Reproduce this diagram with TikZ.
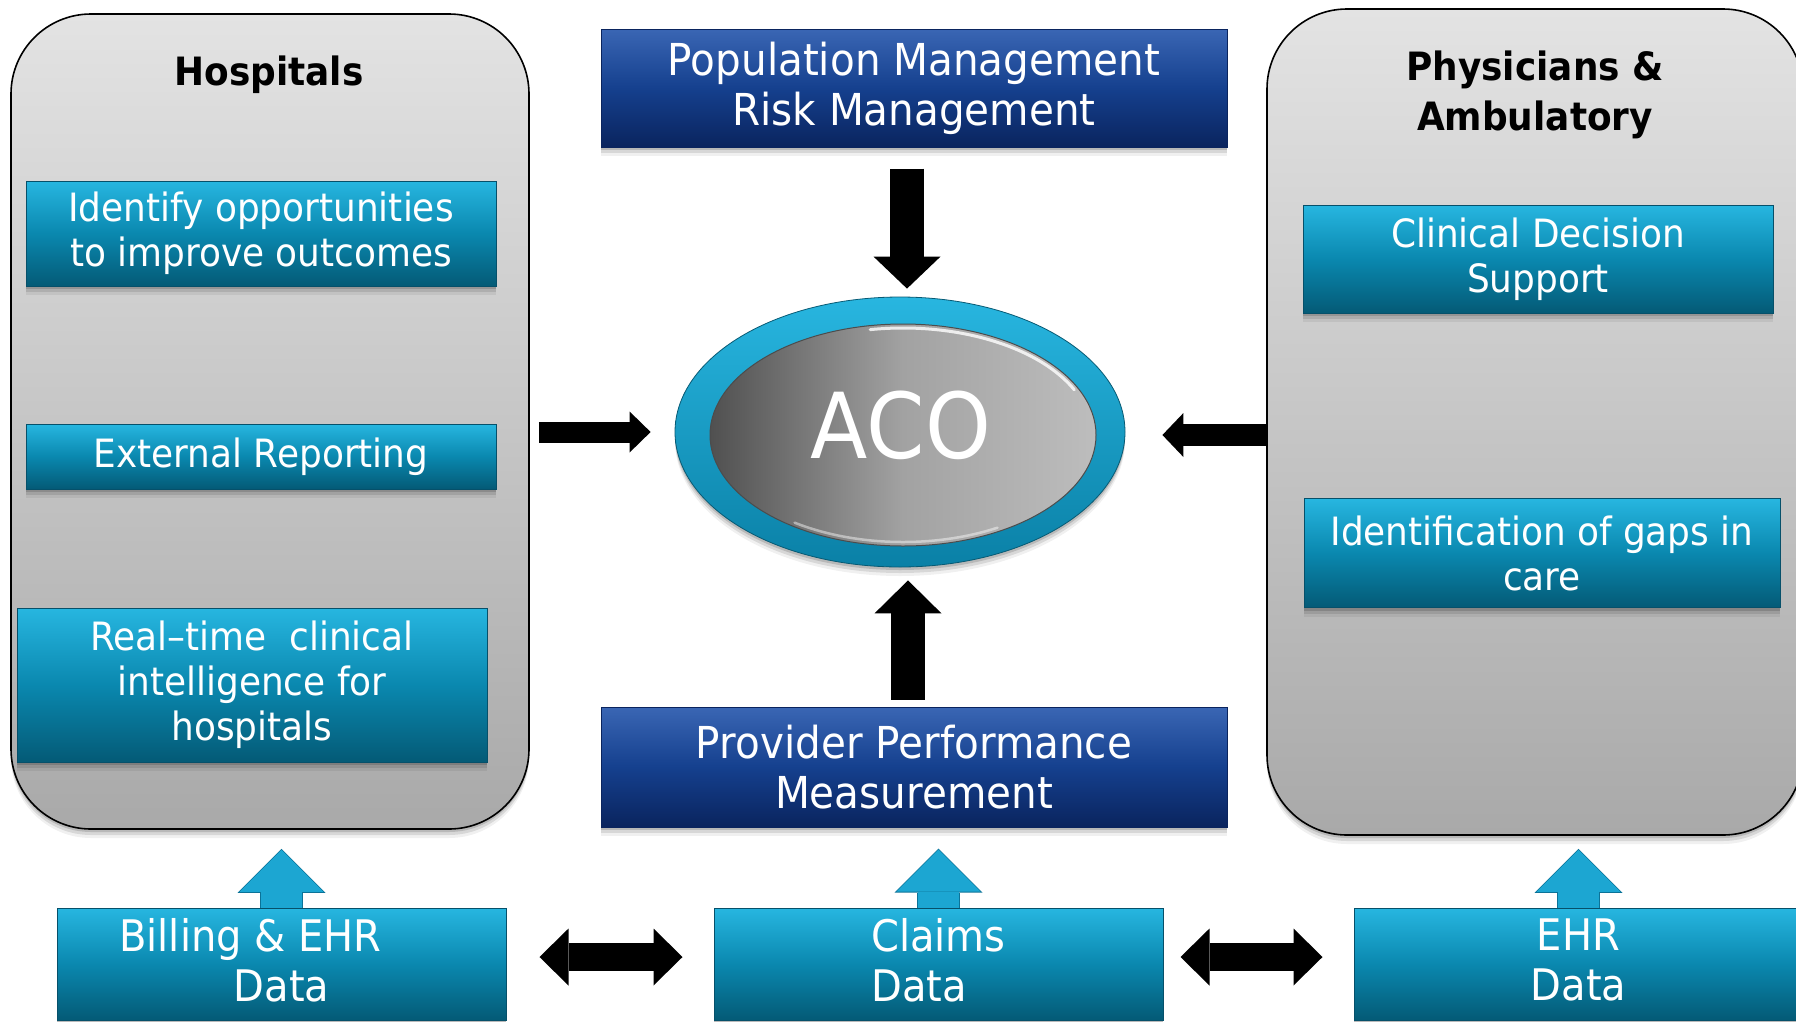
\documentclass[tikz,border=0pt]{standalone}
\usepackage{fontspec}
\setmainfont{DejaVu Sans}[FakeStretch=0.92]
\usetikzlibrary{shapes.geometric,arrows.meta,shadows}
\definecolor{tealA}{HTML}{27B6E0}
\definecolor{tealB}{HTML}{0A88AF}
\definecolor{tealC}{HTML}{045A76}
\definecolor{tealE}{HTML}{06506A}
\definecolor{navyA}{HTML}{3A66B4}
\definecolor{navyB}{HTML}{15408E}
\definecolor{navyC}{HTML}{0A245E}
\definecolor{panelA}{HTML}{E3E3E3}
\definecolor{panelB}{HTML}{A9A9A9}
\definecolor{ringA}{HTML}{28B6E0}
\definecolor{ringB}{HTML}{0A80A6}
\definecolor{acoL}{HTML}{505050}
\definecolor{acoM}{HTML}{A2A2A2}
\definecolor{acoR}{HTML}{BDBDBD}
\definecolor{arrowblue}{HTML}{1CA6D2}
\definecolor{arrowedge}{HTML}{0B7398}
\begin{document}
\begin{tikzpicture}[x=1pt,y=-1pt,
  softshadow/.style={
    drop shadow={shadow xshift=0pt, shadow yshift=-9pt, opacity=.06, fill=black},
    drop shadow={shadow xshift=0pt, shadow yshift=-6pt, opacity=.10, fill=black},
    drop shadow={shadow xshift=0pt, shadow yshift=-3pt, opacity=.14, fill=black}},
  panelbox/.style={rectangle, rounded corners=80pt, draw=black, line width=1.6pt,
    top color=panelA, bottom color=panelB, inner sep=0pt, softshadow},
  tealbox/.style={rectangle, draw=tealE, line width=1pt, top color=tealA,
    bottom color=tealC, middle color=tealB, text=white, align=center, inner sep=0pt,
    font=\fontsize{39}{45}\selectfont, softshadow},
  navybox/.style={rectangle, draw=navyC, line width=1pt, top color=navyA,
    bottom color=navyC, middle color=navyB, text=white, align=center, inner sep=0pt,
    font=\fontsize{44}{50}\selectfont, softshadow},
  databox/.style={tealbox, font=\fontsize{43.5}{50}\selectfont, text depth=9pt},
  paneltitle/.style={font=\bfseries\fontsize{39}{50}\selectfont, align=center, text=black, inner sep=0pt},
  blk/.style={draw=black},
  bluearr/.style={draw=arrowblue, line width=41pt,
    -{Triangle[length=42pt,width=84pt,line width=0pt]}},
  bluearredge/.style={draw=arrowedge, line width=43pt,
    -{Triangle[length=44pt,width=88pt,line width=0pt]}},
]
\useasboundingbox (0,0) rectangle (1796,1021);
\fill[white] (0,0) rectangle (1796,1021);

% panels
\node[panelbox, minimum width=518pt, minimum height=815pt] (hosp) at (270,421.5) {};
\node[paneltitle, anchor=base] (hosptitle) at (269,85) {Hospitals};
\node[panelbox, minimum width=536pt, minimum height=826pt] (phys) at (1535,422) {};
\node[paneltitle] (phystitle) at (1535,95) {Physicians \&\\Ambulatory};

% hospital boxes
\node[tealbox, minimum width=470pt, minimum height=105pt] (hid) at (261,233.5) {Identify opportunities\\to improve outcomes};
\node[tealbox, minimum width=470pt, minimum height=65pt] (hext) at (261,456.5) {External Reporting};
\node[tealbox, minimum width=470pt, minimum height=154pt] (hreal) at (252,685) {Real–time\ \ clinical\\intelligence for\\hospitals};

% physician boxes
\node[tealbox, minimum width=470pt, minimum height=108pt] (pcds) at (1538,259) {Clinical Decision\\Support};
\node[tealbox, minimum width=476pt, minimum height=109pt] (pgap) at (1542,553) {Identification of gaps in\\care};

% navy boxes
\node[navybox, minimum width=626pt, minimum height=118pt] (pop) at (914,88) {Population Management\\Risk Management};
\node[navybox, minimum width=626pt, minimum height=120pt] (prov) at (914,767) {Provider Performance\\Measurement};

% ACO
\node[ellipse, minimum width=450pt, minimum height=270pt, inner sep=0pt,
  draw=ringB!70!black, line width=.8pt, top color=ringA, bottom color=ringB,
  softshadow] (aco) at (900,432) {};
\node[ellipse, minimum width=386pt, minimum height=222pt, inner sep=0pt,
  draw=black!70, line width=1pt, left color=acoL, right color=acoR, middle color=acoM] (acoin) at (903,435) {};
\draw[white, opacity=.8, line width=3pt, line cap=round]
  ([shift={(-100:189 and 107)}]acoin.center) arc[start angle=-100, end angle=-25, x radius=189, y radius=107];
\draw[white, opacity=.45, line width=2.5pt, line cap=round]
  ([shift={(60:189 and 107)}]acoin.center) arc[start angle=60, end angle=125, x radius=189, y radius=107];
\node[text=white, font=\fontsize{91}{91}\selectfont, inner sep=0pt] (acotext) at (901,425) {ACO};

% bottom data boxes
\node[databox, minimum width=449pt, minimum height=112pt] (bill) at (281.5,964) {Billing \& EHR\rule{62pt}{0pt}\\Data};
\node[databox, align=left, minimum width=449pt, minimum height=112pt] (claims) at (938.5,964) {Claims\\Data};
\node[databox, minimum width=449pt, minimum height=112pt] (ehr) at (1578.5,964) {EHR\\Data};

% black arrows to ACO
\draw[blk, line width=34pt, -{Triangle[length=32pt,width=67pt,line width=0pt]},
  shorten <=21pt, shorten >=8pt] ([xshift=-7pt]pop.south) -- ([xshift=-7pt]pop.south |- aco.north);
\draw[blk, line width=34pt, -{Triangle[length=33pt,width=67pt,line width=0pt]},
  shorten <=7pt, shorten >=13pt] ([xshift=-6pt]prov.north) -- ([xshift=-6pt]prov.north |- aco.south);
\draw[blk, line width=21pt, -{Triangle[length=21pt,width=41pt,line width=0pt]},
  shorten <=9pt, shorten >=24pt] (hosp.east |- aco.west) -- (aco.west);
\draw[blk, line width=22pt, -{Triangle[length=21pt,width=44pt,line width=0pt]},
  shorten >=37pt] ([yshift=-3pt]phys.west |- aco.east) -- ([yshift=-3pt]aco.east);

% blue up arrows
\draw[bluearredge, shorten >=19pt] (bill.north) -- (bill.north |- hosp.south);
\draw[bluearr, shorten >=20pt] (bill.north) -- (bill.north |- hosp.south);
\draw[bluearredge, shorten >=21pt] (claims.north) -- (claims.north |- prov.south);
\draw[bluearr, shorten >=22pt] (claims.north) -- (claims.north |- prov.south);
\draw[bluearredge, shorten >=13pt] (ehr.north) -- (ehr.north |- phys.south);
\draw[bluearr, shorten >=14pt] (ehr.north) -- (ehr.north |- phys.south);

% double arrows
\draw[blk, line width=28pt,
  {Triangle[length=29pt,width=57pt,line width=0pt]}-{Triangle[length=29pt,width=57pt,line width=0pt]},
  shorten <=33pt, shorten >=31pt] ([yshift=7pt]bill.east) -- ([yshift=7pt]claims.west);
\draw[blk, line width=28pt,
  {Triangle[length=29pt,width=57pt,line width=0pt]}-{Triangle[length=29pt,width=57pt,line width=0pt]},
  shorten <=17pt, shorten >=31pt] ([yshift=7pt]claims.east) -- ([yshift=7pt]ehr.west);
\end{tikzpicture}
\end{document}
